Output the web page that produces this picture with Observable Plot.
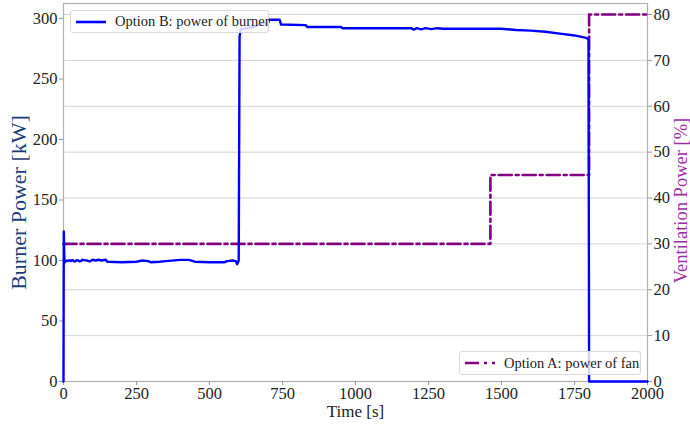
<!DOCTYPE html>
<html>
<head>
<meta charset="utf-8">
<script src="https://cdn.jsdelivr.net/npm/d3@7"></script>
<script src="https://cdn.jsdelivr.net/npm/@observablehq/plot@0.6"></script>
<style>
  html, body { margin: 0; padding: 0; background: #fff; }
  #wrap { position: relative; width: 690px; height: 424px; }
  .legend { position: absolute; box-sizing: border-box; background: rgba(255,255,255,0.82);
    border: 1px solid #d8d8d8; border-radius: 3px; font-family: "Liberation Serif", "DejaVu Serif", serif;
    font-size: 14.5px; color: #222; display: flex; align-items: center; white-space: nowrap; overflow: visible; }
  .legend svg { margin: 0 9px 0 5px; flex: none; }
</style>
</head>
<body>
<div id="wrap"></div>
<script>
// Burner power (Option B), kW: [time s, power]
const burnerTime  = [0, 1, 3, 5, 10, 15, 20, 25, 30, 35, 40, 45, 50, 55, 60, 65, 70, 80, 90, 100, 110, 120, 130, 145, 150, 200, 250, 270, 290, 300, 330, 350, 400, 430, 450, 500, 550, 560, 580, 590, 595, 600, 603, 607, 650, 680, 700, 705, 740, 745, 830, 835, 950, 955, 1190, 1200, 1210, 1225, 1240, 1260, 1280, 1300, 1500, 1550, 1600, 1650, 1700, 1750, 1790, 1798, 1800, 2000];
const burnerPower = [0, 124, 100, 98.5, 100, 99.5, 100.3, 99.5, 100.5, 99.5, 99.2, 100.3, 100, 99.3, 99.6, 100.6, 100.3, 100, 99.3, 100.6, 100, 100.6, 100, 100.6, 99, 98.5, 99, 100, 99.5, 98.5, 99, 99.5, 100.5, 100.5, 99, 98.5, 98.5, 99.5, 100, 99.5, 97, 100, 285, 291, 293, 296, 296, 299, 299, 295, 294.5, 293, 293, 292, 292, 290.8, 292, 291, 292, 291.2, 292, 291.5, 291.5, 290.5, 290, 289, 287.5, 286, 284, 283, 0, 0];

// Fan power (Option A), %: step changes
const fanTime  = [0, 1462, 1462, 1800, 1800, 2000];
const fanPower = [30, 30, 45, 45, 80, 80];

// Tick labels
const xTicks = [0, 250, 500, 750, 1000, 1250, 1500, 1750, 2000];
const yLeftTicks = [0, 50, 100, 150, 200, 250, 300];
const yRightTicks = [0, 10, 20, 30, 40, 50, 60, 70, 80];

const leftMax = 312.4, rightMax = 82.4;
const k = leftMax / rightMax;

const burner = burnerTime.map((t, i) => ({t, v: burnerPower[i]}));
const fan = fanTime.map((t, i) => ({t, v: fanPower[i]}));

const font = "'Liberation Serif', 'DejaVu Serif', serif";
const navy = "#1c3c7c";
const purple = "#9c2ca4";
const axisOpts = {tickSize: 4, stroke: "#999", fontSize: 16.5, fill: "#222", tickPadding: 2, label: null, fontFamily: font};

const chart = Plot.plot({
  width: 690, height: 424,
  marginTop: 3, marginRight: 43, marginBottom: 43, marginLeft: 63,
  style: {fontFamily: font, background: "#fff"},
  x: {domain: [0, 2000]},
  y: {domain: [0, leftMax]},
  marks: [
    Plot.ruleY(yRightTicks.filter(d => d > 0).map(d => d * k), {stroke: "#d4d4d4", strokeWidth: 1}),
    Plot.frame({stroke: "#b0b0b0", strokeWidth: 1.2}),
    Plot.axisX({...axisOpts, ticks: xTicks, tickFormat: d => String(d)}),
    Plot.axisY({...axisOpts, anchor: "left", ticks: yLeftTicks, tickFormat: d => String(d)}),
    Plot.axisY({...axisOpts, anchor: "right", ticks: yRightTicks.map(d => d * k), tickFormat: d => String(Math.round(d / k))}),
    Plot.line(fan, {x: "t", y: d => d.v * k, stroke: "#800080", strokeWidth: 2.6, strokeDasharray: "13,4,3,4"}),
    Plot.line(burner, {x: "t", y: "v", stroke: "#0000ff", strokeWidth: 2.4}),
    Plot.text(["Time [s]"], {frameAnchor: "bottom", textAnchor: "middle", dy: 35, fontSize: 17, fill: "#222", fontFamily: font}),
    Plot.text(["Burner Power [kW]"], {frameAnchor: "left", textAnchor: "middle", dx: -45, dy: 10, rotate: -90, fontSize: 22, fill: navy, fontFamily: font}),
    Plot.text(["Ventilation Power [%]"], {frameAnchor: "right", textAnchor: "middle", dx: 34, dy: 8, rotate: -90, fontSize: 18.5, fill: purple, fontFamily: font})
  ]
});

const wrap = document.getElementById("wrap");
wrap.appendChild(chart);

function legend(left, top, w, h, dash, color, label) {
  const div = document.createElement("div");
  div.className = "legend";
  Object.assign(div.style, {left: left + "px", top: top + "px", width: w + "px", height: h + "px"});
  div.innerHTML = `<svg width="30" height="6"><line x1="0" y1="3" x2="30" y2="3" stroke="${color}" stroke-width="2.6" ${dash ? `stroke-dasharray="${dash}"` : ""}/></svg><span>${label}</span>`;
  wrap.appendChild(div);
}
legend(70, 10, 199, 23, null, "#0000ff", "Option B: power of burner");
legend(459, 351, 182, 24, "14,5,3,5", "#800080", "Option A: power of fan");
</script>
</body>
</html>
